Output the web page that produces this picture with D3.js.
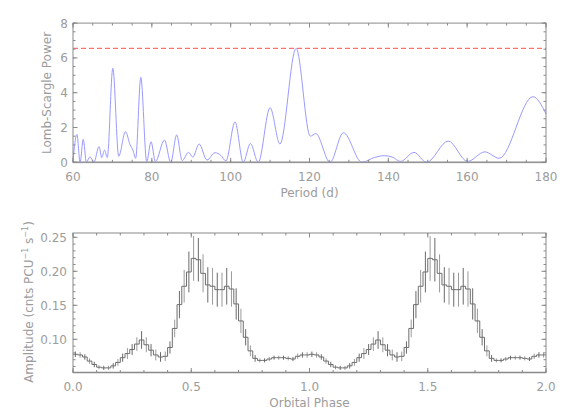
<!DOCTYPE html>
<html>
<head>
<meta charset="utf-8">
<script src="https://cdn.jsdelivr.net/npm/d3@7"></script>
<style>
  body { margin: 0; background: #fff; }
  svg { display: block; }
  text { font-family: "DejaVu Sans", sans-serif; fill: #9c9c9c; font-size: 12px; }
  .frame { fill: none; stroke: #8a8a8a; stroke-width: 1; }
  .tick-line { stroke: #8a8a8a; stroke-width: 1; }
</style>
</head>
<body>
<svg id="chart" width="568" height="419"></svg>
<script>
// Lomb-Scargle periodogram (peaks and troughs)
const periods = [60.0, 61.0, 61.8, 62.6, 63.4, 64.3, 65.3, 66.6, 67.3, 68.0, 68.7, 70.1, 71.6,
  73.3, 74.5, 75.2, 75.9, 77.2, 78.7, 79.8, 80.9, 83.2, 84.8, 86.3, 87.7, 89.3, 90.4, 92.0,
  94.0, 96.0, 97.5, 98.8, 101.1, 103.2, 105.0, 107.0, 110.0, 112.5, 116.6, 120.2, 121.6,
  125.2, 128.6, 133.3, 136.5, 139.0, 141.0, 143.1, 146.5, 149.7, 155.2, 160.1, 164.5,
  168.1, 176.7, 180.0];
const power = [0.1, 1.6, 0.0, 1.32, 0.0, 0.32, 0.0, 0.9, 0.27, 0.7, 0.27, 5.4, 0.35,
  1.76, 1.0, 0.7, 0.23, 4.88, 0.04, 1.18, 0.04, 1.28, 0.0, 1.57, 0.1, 0.57, 0.3, 1.05,
  0.13, 0.55, 0.4, 0.08, 2.32, 0.0, 1.08, 0.0, 3.14, 1.05, 6.55, 1.5, 1.65,
  0.0, 1.7, 0.0, 0.28, 0.38, 0.3, 0.05, 0.57, 0.0, 1.22, 0.05, 0.6,
  0.23, 3.77, 2.78];
const significance = 6.55;

// Folded light curve, 50 phase bins per cycle (plotted twice)
const amplitude = [0.078, 0.077, 0.074, 0.068, 0.063, 0.059, 0.058, 0.058, 0.061, 0.066,
  0.073, 0.079, 0.085, 0.093, 0.099, 0.092, 0.084, 0.077, 0.074, 0.075,
  0.088, 0.116, 0.151, 0.178, 0.199, 0.219, 0.217, 0.197, 0.180, 0.178,
  0.173, 0.173, 0.178, 0.174, 0.152, 0.127, 0.103, 0.083, 0.072, 0.069,
  0.069, 0.071, 0.073, 0.073, 0.073, 0.072, 0.071, 0.075, 0.077, 0.077];
const amplitudeErr = [0.004, 0.004, 0.004, 0.004, 0.004, 0.003, 0.003, 0.003, 0.004, 0.005,
  0.006, 0.008, 0.008, 0.010, 0.013, 0.011, 0.009, 0.008, 0.007, 0.007,
  0.009, 0.013, 0.020, 0.024, 0.030, 0.033, 0.032, 0.028, 0.026, 0.027,
  0.025, 0.025, 0.027, 0.026, 0.023, 0.018, 0.012, 0.008, 0.005, 0.003,
  0.003, 0.003, 0.003, 0.003, 0.003, 0.003, 0.003, 0.004, 0.004, 0.004];

const periodTicks = [60, 80, 100, 120, 140, 160, 180];
const powerTicks = [0, 2, 4, 6, 8];
const phaseTicks = [0, 0.5, 1.0, 1.5, 2.0];
const ampTicks = [0.10, 0.15, 0.20, 0.25];

const nBins = amplitude.length;
const lightCurve = d3.range(2 * nBins).map((i) => ({
  phase: (i + 0.5) / nBins,
  value: amplitude[i % nBins],
  err: amplitudeErr[i % nBins],
}));

const svg = d3.select("#chart");
const left = 73, right = 546;
const majorLen = 4.5, minorLen = 2.5;

function frame(g, x, y) {
  const [x0, x1] = x.range();
  const [y0, y1] = y.range();
  g.append("rect").attr("class", "frame")
    .attr("x", x0).attr("y", y1).attr("width", x1 - x0).attr("height", y0 - y1);
}

function ticks(g, x, y, xMajor, xMinor, yMajor, yMinor) {
  const [x0, x1] = x.range();
  const [y0, y1] = y.range();
  const tick = (vals, len, horiz) => vals.forEach((v) => {
    if (horiz) {
      const px = x(v);
      g.append("line").attr("class", "tick-line").attr("x1", px).attr("x2", px).attr("y1", y0).attr("y2", y0 - len);
      g.append("line").attr("class", "tick-line").attr("x1", px).attr("x2", px).attr("y1", y1).attr("y2", y1 + len);
    } else {
      const py = y(v);
      g.append("line").attr("class", "tick-line").attr("x1", x0).attr("x2", x0 + len).attr("y1", py).attr("y2", py);
      g.append("line").attr("class", "tick-line").attr("x1", x1).attr("x2", x1 - len).attr("y1", py).attr("y2", py);
    }
  });
  tick(xMinor, minorLen, true);
  tick(xMajor, majorLen, true);
  tick(yMinor, minorLen, false);
  tick(yMajor, majorLen, false);
}

/**
 * Top panel: periodogram
 */
const xP = d3.scaleLinear().domain([60, 180]).range([left, right]);
const yP = d3.scaleLinear().domain([0, 8]).range([162.3, 23.1]);
const topG = svg.append("g");

topG.append("line")
  .attr("x1", left).attr("x2", right)
  .attr("y1", yP(0)).attr("y2", yP(0))
  .attr("stroke", "#c4c4c4").attr("stroke-width", 2);

topG.append("path")
  .datum(periods.map((p, i) => [p, power[i]]))
  .attr("fill", "none")
  .attr("stroke", "#9a9aff")
  .attr("stroke-width", 1)
  .attr("d", d3.line().x((d) => xP(d[0])).y((d) => yP(d[1])).curve(d3.curveMonotoneX));

topG.append("line")
  .attr("x1", left).attr("x2", right)
  .attr("y1", yP(significance)).attr("y2", yP(significance))
  .attr("stroke", "#ff7070").attr("stroke-width", 1.2)
  .attr("stroke-dasharray", "5,3");

frame(topG, xP, yP);
ticks(topG, xP, yP, periodTicks, d3.range(60, 181, 5), powerTicks, d3.range(0, 8.01, 0.5));

topG.selectAll(".xl").data(periodTicks).join("text")
  .attr("x", (d) => xP(d)).attr("y", 181).attr("text-anchor", "middle").text((d) => d);
topG.selectAll(".yl").data(powerTicks).join("text")
  .attr("x", 68).attr("y", (d) => yP(d) + 4.5).attr("text-anchor", "end").text((d) => d);
topG.append("text").attr("x", (left + right) / 2).attr("y", 197).attr("text-anchor", "middle").text("Period (d)");
topG.append("text").attr("transform", "translate(51,93) rotate(-90)").attr("text-anchor", "middle").text("Lomb-Scargle Power");

/**
 * Bottom panel: folded light curve
 */
const xF = d3.scaleLinear().domain([0, 2]).range([left, right]);
const yF = d3.scaleLinear().domain([0.0512, 0.2563]).range([372.5, 233]);
const bottomG = svg.append("g");

bottomG.append("line")
  .attr("x1", left).attr("x2", right)
  .attr("y1", yF.range()[0]).attr("y2", yF.range()[0])
  .attr("stroke", "#c4c4c4").attr("stroke-width", 2);

bottomG.selectAll(".err").data(lightCurve).join("line")
  .attr("x1", (d) => xF(d.phase)).attr("x2", (d) => xF(d.phase))
  .attr("y1", (d) => yF(d.value - d.err)).attr("y2", (d) => yF(d.value + d.err))
  .attr("stroke", (d, i) => (i % 2 ? "#9a9a9a" : "#6a6a6a"))
  .attr("stroke-width", 1);

const stepPts = [{ phase: 0, value: lightCurve[0].value }, ...lightCurve,
  { phase: 2, value: lightCurve[lightCurve.length - 1].value }];
bottomG.append("path")
  .datum(stepPts)
  .attr("fill", "none")
  .attr("stroke", "#6e6e6e")
  .attr("stroke-width", 1)
  .attr("d", d3.line().x((d) => xF(d.phase)).y((d) => yF(d.value)).curve(d3.curveStep));

frame(bottomG, xF, yF);
ticks(bottomG, xF, yF, phaseTicks, d3.range(0, 2.001, 0.1), ampTicks, d3.range(0.06, 0.2501, 0.01));

bottomG.selectAll(".xl").data(phaseTicks).join("text")
  .attr("x", (d) => xF(d)).attr("y", 391).attr("text-anchor", "middle").text((d) => d.toFixed(1));
bottomG.selectAll(".yl").data(ampTicks).join("text")
  .attr("x", 67).attr("y", (d) => yF(d) + 4.5).attr("text-anchor", "end").text((d) => d.toFixed(2));
bottomG.append("text").attr("x", (left + right) / 2).attr("y", 407).attr("text-anchor", "middle").text("Orbital Phase");
const yt = bottomG.append("text").attr("transform", "translate(33,302) rotate(-90)").attr("text-anchor", "middle");
yt.append("tspan").text("Amplitude (cnts PCU");
yt.append("tspan").attr("dy", -5).attr("font-size", 8).text("−1");
yt.append("tspan").attr("dy", 5).text(" s");
yt.append("tspan").attr("dy", -5).attr("font-size", 8).text("−1");
yt.append("tspan").attr("dy", 5).text(")");
</script>
</body>
</html>
